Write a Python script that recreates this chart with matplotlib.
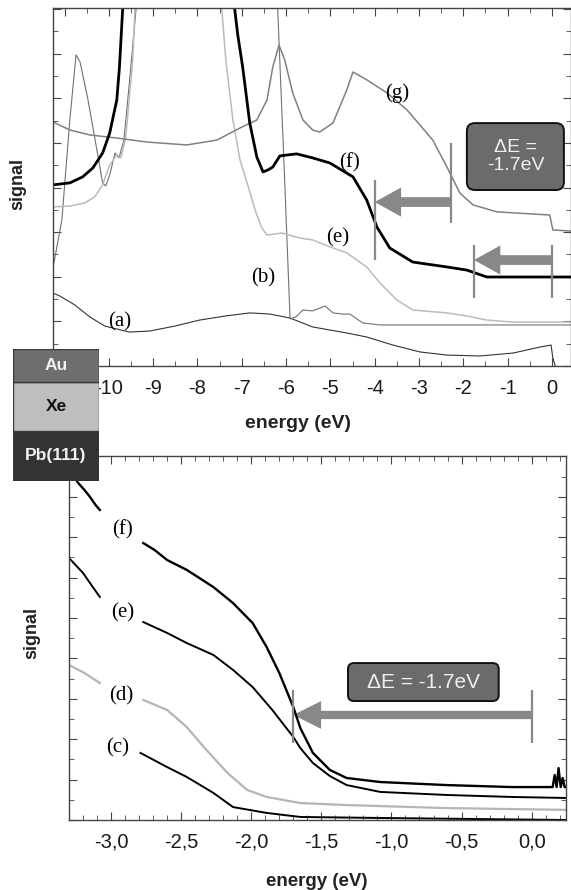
import matplotlib
matplotlib.use("Agg")
import matplotlib.pyplot as plt
from matplotlib.patches import FancyArrowPatch, FancyBboxPatch, Rectangle
from matplotlib.ticker import MultipleLocator, FuncFormatter

plt.rcParams["font.family"] = ["Liberation Sans", "DejaVu Sans"]

# --- top panel: spectra (a), (b), (e), (f), (g) ---
a_E = [-11.26, -11.11, -10.77, -10.43, -10.09, -9.53, -9.07, -8.51, -7.95, -7.38,
       -6.82, -6.37, -5.91, -5.40, -4.63, -4.18, -3.59, -2.98, -2.37, -1.63,
       -0.88, -0.27, -0.02, 0.02, 0.09]
a_sig = [3.27, 3.14, 2.74, 2.20, 1.79, 1.52, 1.57, 1.79, 2.06, 2.24,
         2.38, 2.33, 2.15, 1.75, 1.48, 1.30, 0.94, 0.63, 0.49, 0.45,
         0.58, 0.85, 0.94, 0.36, -0.1]

b_E = [-11.26, -11.06, -10.88, -10.74, -10.65, -10.47, -10.27, -10.14, -10.07, -9.98,
       -9.86, -9.77, -9.66, -9.53, -9.34, -6.21, -6.05, -5.91, -5.78, -5.62,
       -5.40, -5.12, -4.94, -4.72, -4.56, -4.27, -3.88, 0.43]
b_sig = [4.39, 6.55, 11.03, 13.95, 13.63, 11.93, 9.69, 8.21, 8.07, 8.57,
         9.55, 9.33, 10.13, 12.83, 17.0, 17.0, 9.24, 2.11, 2.20, 2.51,
         2.47, 2.69, 2.38, 2.33, 2.33, 1.93, 1.84, 1.84]

e_E = [-11.26, -10.88, -10.54, -10.32, -10.14, -9.98, -9.82, -9.73, -9.62, -9.46,
       -9.39, -7.49, -7.36, -7.20, -7.04, -6.88, -6.70, -6.55, -6.43, -6.25,
       -6.09, -5.69, -5.40, -5.01, -4.63, -4.18, -3.88, -3.50, -3.14, -2.37,
       -1.92, -1.47, -0.88, 0.43]
e_sig = [7.13, 7.17, 7.31, 7.58, 8.12, 9.01, 9.46, 9.33, 10.22, 13.72,
         17.0, 17.0, 13.72, 11.03, 9.24, 8.21, 7.00, 6.19, 5.87, 5.92,
         5.96, 5.74, 5.65, 5.34, 5.07, 4.44, 3.72, 2.96, 2.51, 2.38,
         2.24, 2.06, 1.97, 1.97]

f_E = [-11.26, -10.88, -10.59, -10.36, -10.14, -9.98, -9.82, -9.76, -9.66, -7.22,
       -7.09, -6.98, -6.82, -6.66, -6.52, -6.41, -6.30, -6.14, -5.98, -5.76,
       -5.40, -5.01, -4.49, -4.18, -3.95, -3.66, -3.14, -2.37, -1.92, -1.47,
       -0.88, 0.43]
f_sig = [8.12, 8.21, 8.48, 8.88, 9.55, 10.45, 11.93, 13.41, 17.0, 17.0,
         14.84, 13.41, 10.90, 9.37, 8.70, 8.79, 8.92, 9.42, 9.46, 9.51,
         9.33, 9.10, 8.48, 7.44, 6.23, 5.29, 4.66, 4.44, 4.30, 3.99,
         3.99, 3.99]

g_E = [-11.26, -10.88, -10.43, -9.82, -9.14, -8.24, -7.56, -7.04, -6.66, -6.43,
       -6.30, -6.16, -6.03, -5.85, -5.62, -5.40, -5.24, -4.94, -4.63, -4.49,
       -4.18, -3.72, -3.27, -2.69, -2.37, -2.08, -1.78, -1.24, -0.05, 0.02,
       0.43]
g_sig = [10.94, 10.58, 10.36, 10.22, 10.04, 9.91, 10.13, 10.67, 11.03, 11.93,
         13.41, 14.39, 13.72, 12.24, 11.03, 10.58, 10.49, 10.90, 12.38, 13.18,
         12.83, 12.24, 11.48, 10.13, 8.92, 7.76, 7.22, 6.91, 6.77, 6.10,
         6.05]

top_labels = ["(a)", "(b)", "(e)", "(f)", "(g)"]
top_label_E = [-9.75, -6.52, -4.83, -4.56, -3.50]
top_label_sig = [1.97, 3.95, 5.74, 9.10, 12.24]

# shift markers (start, end, level, bar low/high at start, at end)
top_shifts = [(-2.28, -4.00, 7.35, (6.41, 10.0), (4.75, 8.34)),
              (0.0, -1.76, 4.75, (3.05, 5.43), (3.05, 5.43))]

# --- bottom panel: zoom on onset, spectra (c)-(f) ---
bf1_E = [-3.30, -3.24, -3.19, -3.15, -3.11, -3.08]
bf1_sig = [17.72, 16.73, 16.34, 15.99, 15.59, 15.35]
bf2_E = [-2.77, -2.69, -2.60, -2.46, -2.37, -2.27, -2.13, -1.99, -1.89, -1.80,
         -1.70, -1.65, -1.56, -1.44, -1.32, -1.08, -0.61, -0.14, 0.13, 0.150,
         0.164, 0.178, 0.192, 0.207, 0.221, 0.235, 0.245]
bf2_sig = [13.71, 13.37, 12.87, 12.38, 11.98, 11.53, 10.74, 9.75, 8.56, 7.28,
           5.59, 4.55, 3.32, 2.48, 2.08, 1.88, 1.73, 1.63, 1.63, 1.63,
           2.23, 1.63, 2.57, 1.63, 2.08, 1.63, 1.63]

be1_E = [-3.30, -3.20, -3.14, -3.08]
be1_sig = [12.97, 12.23, 11.63, 11.04]
be2_E = [-2.77, -2.60, -2.46, -2.27, -2.13, -1.99, -1.85, -1.70, -1.65, -1.56,
         -1.44, -1.32, -1.08, -0.61, -0.14, 0.25]
be2_sig = [9.80, 9.26, 8.76, 8.17, 7.43, 6.58, 5.45, 4.11, 3.56, 2.82,
           2.18, 1.73, 1.39, 1.24, 1.14, 1.09]

bd1_E = [-3.30, -3.19, -3.08]
bd1_sig = [7.67, 7.28, 6.78]
bd2_E = [-2.77, -2.60, -2.46, -2.32, -2.17, -2.03, -1.89, -1.65, -1.32, -0.61, 0.25]
bd2_sig = [5.94, 5.45, 4.60, 3.47, 2.33, 1.49, 1.14, 0.84, 0.74, 0.59, 0.50]

bc_E = [-2.79, -2.60, -2.46, -2.27, -2.13, -1.89, -1.65, -1.08, 0.25]
bc_sig = [3.32, 2.62, 2.13, 1.34, 0.64, 0.35, 0.15, 0.10, 0.0]

bot_labels = ["(f)", "(e)", "(d)", "(c)"]
bot_label_E = [-2.92, -2.92, -2.93, -2.95]
bot_label_sig = [14.36, 10.25, 6.14, 3.56]

layers = ["Pb(111)", "Xe", "Au"]
layer_colors = ["#333333", "#bebebe", "#6e6e6e"]
layer_text_colors = ["#f2f2f2", "#111111", "#f2f2f2"]

gray = "#888888"


def style_axes(ax, xmaj, xmin):
    ax.xaxis.set_major_locator(MultipleLocator(xmaj))
    ax.xaxis.set_minor_locator(MultipleLocator(xmin))
    ax.yaxis.set_major_locator(MultipleLocator(2))
    ax.yaxis.set_minor_locator(MultipleLocator(1))
    ax.tick_params(which="both", direction="in", top=True, right=True,
                   labelleft=False, color="#444444")
    ax.tick_params(which="major", length=6, labelsize=14.5, pad=9, labelcolor="#1a1a1a")
    ax.tick_params(which="minor", length=3.5)
    for s in ax.spines.values():
        s.set_color("#444444")
        s.set_linewidth(1.0)


def shift_arrow(ax, x0, x1, y, bar0, bar1, hl, hw, tw):
    ax.plot([x0, x0], bar0, color=gray, lw=1.6, solid_capstyle="butt")
    ax.plot([x1, x1], bar1, color=gray, lw=1.6, solid_capstyle="butt")
    arr = FancyArrowPatch((x0, y), (x1, y),
                          arrowstyle=f"simple,head_length={hl},head_width={hw},tail_width={tw}",
                          mutation_scale=1, color=gray, shrinkA=0, shrinkB=0, lw=0)
    ax.add_patch(arr)


fig = plt.figure(figsize=(5.71, 8.90), dpi=100)

# top panel
ax1 = fig.add_axes([53 / 571, 1 - 366 / 890, 518 / 571, 358 / 890])
ax1.plot(a_E, a_sig, color="#333333", lw=0.8)
ax1.plot(b_E, b_sig, color="#707070", lw=0.8)
ax1.plot(e_E, e_sig, color="#bbbbbb", lw=1.1)
ax1.plot(g_E, g_sig, color="#808080", lw=1.1)
ax1.plot(f_E, f_sig, color="black", lw=2.0)
ax1.set_xlim(-11.26, 0.43)
ax1.set_ylim(0, 16.05)
style_axes(ax1, 1, 0.5)
ax1.xaxis.set_major_formatter(FuncFormatter(lambda v, p: f"{v:.0f}".replace("-0", "0")))
for lab, x, y in zip(top_labels, top_label_E, top_label_sig):
    ax1.text(x, y, lab, fontsize=15, family="Liberation Serif", ha="center", va="center")
for x0, x1, y, bar0, bar1 in top_shifts:
    shift_arrow(ax1, x0, x1, y, bar0, bar1, 19, 21, 7)
ax1.add_patch(FancyBboxPatch((-1.92, 7.89), 2.19, 3.0, boxstyle="round,pad=0,rounding_size=0.18",
                             mutation_aspect=1.99, fc="#6b6b6b", ec="#111111", lw=1.4, zorder=5))
ax1.text(-0.825, 9.40, "ΔE =\n-1.7eV", color="#f0f0f0", fontsize=14, ha="center",
         va="center", linespacing=1.1, zorder=6)

# bottom panel
ax2 = fig.add_axes([69 / 571, 1 - 820 / 890, 497 / 571, 364 / 890])
for xs, ys, c, w in [(bc_E, bc_sig, "black", 1.4),
                     (bd1_E, bd1_sig, "#b5b5b5", 1.6), (bd2_E, bd2_sig, "#b5b5b5", 1.6),
                     (be1_E, be1_sig, "black", 1.4), (be2_E, be2_sig, "black", 1.4),
                     (bf1_E, bf1_sig, "black", 1.7), (bf2_E, bf2_sig, "black", 1.7)]:
    ax2.plot(xs, ys, color=c, lw=w)
ax2.set_xlim(-3.30, 0.245)
ax2.set_ylim(0, 18.02)
style_axes(ax2, 0.5, 0.1)
ax2.xaxis.set_major_formatter(FuncFormatter(lambda v, p: f"{v:.1f}".replace(".", ",")))
for lab, x, y in zip(bot_labels, bot_label_E, bot_label_sig):
    ax2.text(x, y, lab, fontsize=15, family="Liberation Serif", ha="center", va="center")
shift_arrow(ax2, 0.0, -1.7, 5.20, (3.81, 6.44), (3.81, 6.44), 20, 20, 6)
ax2.add_patch(FancyBboxPatch((-1.31, 5.89), 1.075, 1.88, boxstyle="round,pad=0,rounding_size=0.043",
                             mutation_aspect=6.95, fc="#6b6b6b", ec="#111111", lw=1.4, zorder=5))
ax2.text(-0.772, 6.83, "ΔE = -1.7eV", color="#f0f0f0", fontsize=15, ha="center",
         va="center", zorder=6)

# axis labels
fig.text(298 / 571, 1 - 424 / 890, "energy (eV)", fontsize=14, fontweight="bold",
         ha="center", va="center", color="#222222")
fig.text(317 / 571, 1 - 881 / 890, "energy (eV)", fontsize=13.5, fontweight="bold",
         ha="center", va="center", color="#222222")
fig.text(18 / 571, 1 - 184 / 890, "signal", fontsize=13, fontweight="bold", rotation=90,
         ha="center", va="center", color="#222222")
fig.text(32 / 571, 1 - 633 / 890, "signal", fontsize=13, fontweight="bold", rotation=90,
         ha="center", va="center", color="#222222")

# layer stack sketch
ax3 = fig.add_axes([13 / 571, 1 - 481 / 890, 86 / 571, 132 / 890])
ax3.set_xlim(0, 1)
ax3.set_ylim(0, 3)
ax3.axis("off")
heights = [1.14, 1.11, 0.75]
y0 = 0
for name, h, c, tc in zip(layers, heights, layer_colors, layer_text_colors):
    ax3.add_patch(Rectangle((0, y0), 1, h, fc=c, ec="#3a3a3a", lw=1.0))
    ax3.text(0.5, y0 + h / 2, name, color=tc, fontsize=12.5, fontweight="bold",
             ha="center", va="center")
    y0 += h

fig.savefig("out.png", dpi=100)
